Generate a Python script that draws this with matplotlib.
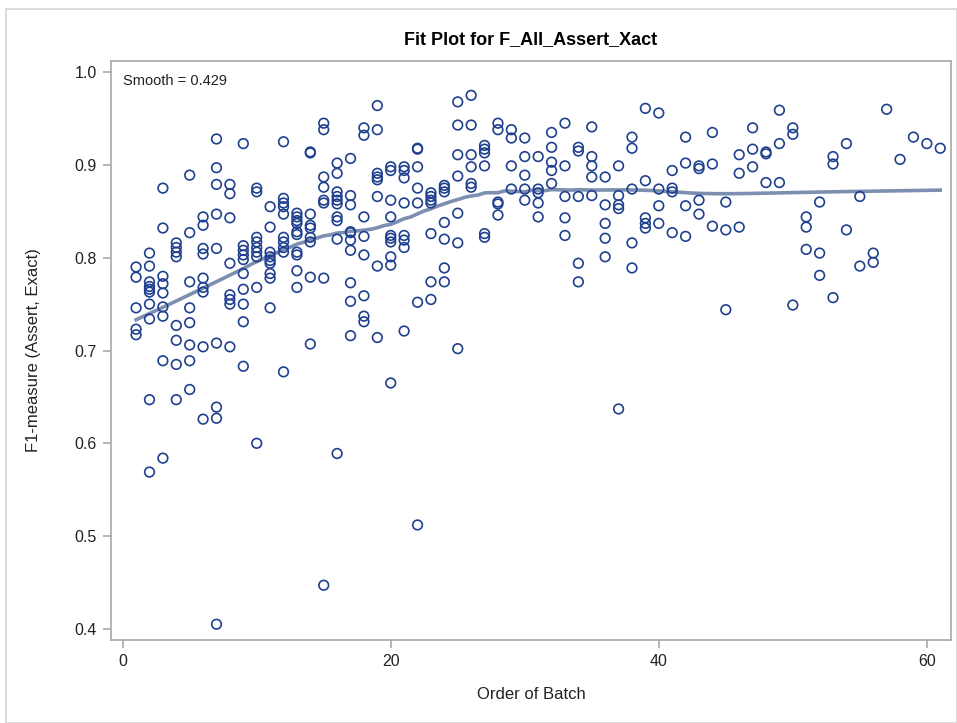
import numpy as np
import matplotlib
matplotlib.use('Agg')
import matplotlib.pyplot as plt
from matplotlib.patches import Rectangle

plt.rcParams['font.family'] = ['Liberation Sans', 'DejaVu Sans']

# F1 values, one list per batch (batch 1 .. 61)
f1_by_batch = [
    [0.790, 0.779, 0.746, 0.723, 0.717],
    [0.805, 0.791, 0.774, 0.769, 0.766, 0.763, 0.750, 0.734, 0.647, 0.569],
    [0.875, 0.832, 0.780, 0.772, 0.762, 0.747, 0.737, 0.689, 0.584],
    [0.816, 0.811, 0.806, 0.801, 0.727, 0.711, 0.685, 0.647],
    [0.889, 0.827, 0.774, 0.746, 0.730, 0.706, 0.689, 0.658],
    [0.844, 0.835, 0.810, 0.804, 0.778, 0.768, 0.763, 0.704, 0.626],
    [0.928, 0.897, 0.879, 0.847, 0.810, 0.708, 0.639, 0.627, 0.405],
    [0.879, 0.869, 0.843, 0.794, 0.760, 0.755, 0.750, 0.704],
    [0.923, 0.813, 0.808, 0.803, 0.798, 0.783, 0.766, 0.750, 0.731, 0.683],
    [0.875, 0.871, 0.822, 0.817, 0.811, 0.806, 0.801, 0.768, 0.600],
    [0.855, 0.833, 0.806, 0.801, 0.797, 0.794, 0.783, 0.778, 0.746],
    [0.925, 0.864, 0.859, 0.855, 0.847, 0.822, 0.817, 0.811, 0.806, 0.677],
    [0.848, 0.844, 0.840, 0.837, 0.828, 0.825, 0.806, 0.803, 0.786, 0.768],
    [0.914, 0.913, 0.847, 0.835, 0.832, 0.822, 0.817, 0.779, 0.707],
    [0.945, 0.938, 0.887, 0.876, 0.862, 0.859, 0.778, 0.447],
    [0.902, 0.891, 0.871, 0.866, 0.862, 0.858, 0.844, 0.840, 0.820, 0.589],
    [0.907, 0.867, 0.857, 0.828, 0.827, 0.819, 0.808, 0.773, 0.753, 0.716],
    [0.940, 0.932, 0.844, 0.823, 0.803, 0.759, 0.737, 0.731],
    [0.964, 0.938, 0.891, 0.887, 0.884, 0.866, 0.791, 0.714],
    [0.898, 0.894, 0.862, 0.844, 0.824, 0.821, 0.817, 0.801, 0.792, 0.665],
    [0.898, 0.894, 0.886, 0.859, 0.824, 0.819, 0.811, 0.721],
    [0.918, 0.917, 0.898, 0.875, 0.859, 0.752, 0.512],
    [0.870, 0.866, 0.862, 0.859, 0.826, 0.774, 0.755],
    [0.878, 0.875, 0.871, 0.838, 0.820, 0.789, 0.774],
    [0.968, 0.943, 0.911, 0.888, 0.848, 0.816, 0.702],
    [0.975, 0.943, 0.911, 0.898, 0.880, 0.876],
    [0.921, 0.917, 0.913, 0.899, 0.826, 0.822],
    [0.945, 0.938, 0.860, 0.858, 0.846],
    [0.938, 0.929, 0.899, 0.874],
    [0.929, 0.909, 0.889, 0.874, 0.862],
    [0.909, 0.874, 0.870, 0.859, 0.844],
    [0.935, 0.919, 0.903, 0.894, 0.880],
    [0.945, 0.899, 0.866, 0.843, 0.824],
    [0.919, 0.915, 0.866, 0.794, 0.774],
    [0.941, 0.909, 0.899, 0.887, 0.867],
    [0.887, 0.857, 0.837, 0.821, 0.801],
    [0.899, 0.867, 0.857, 0.853, 0.637],
    [0.930, 0.918, 0.874, 0.816, 0.789],
    [0.961, 0.883, 0.843, 0.837, 0.832],
    [0.956, 0.874, 0.856, 0.837],
    [0.894, 0.875, 0.871, 0.827],
    [0.930, 0.902, 0.856, 0.823],
    [0.899, 0.896, 0.862, 0.847],
    [0.935, 0.901, 0.834],
    [0.860, 0.830, 0.744],
    [0.911, 0.891, 0.833],
    [0.940, 0.917, 0.898],
    [0.914, 0.912, 0.881],
    [0.959, 0.923, 0.881],
    [0.940, 0.933, 0.749],
    [0.844, 0.833, 0.809],
    [0.860, 0.805, 0.781],
    [0.909, 0.901, 0.757],
    [0.923, 0.830],
    [0.866, 0.791],
    [0.805, 0.795],
    [0.960],
    [0.906],
    [0.930],
    [0.923],
    [0.918],
]
smooth = 0.429

batch = np.concatenate([[i + 1] * len(v) for i, v in enumerate(f1_by_batch)]).astype(float)
f1 = np.concatenate(f1_by_batch)


def loess(x, y, xs, span):  # local linear fit, tricube weights
    n = len(x)
    k = int(np.floor(span * n))
    out = []
    for x0 in xs:
        d = np.abs(x - x0)
        dmax = np.sort(d)[k - 1] * 1.0001 + 1e-9
        w = np.clip(1 - (d / dmax) ** 3, 0, None) ** 3
        W = np.sum(w)
        xm = np.sum(w * x) / W
        ym = np.sum(w * y) / W
        b = np.sum(w * (x - xm) * (y - ym)) / np.sum(w * (x - xm) ** 2)
        out.append(ym + b * (x0 - xm))
    return np.array(out)


xs = np.linspace(1, 61, 241)
fit = loess(batch, f1, xs, smooth)

fig = plt.figure(figsize=(9.57, 7.23), dpi=100)
fig.patches.append(Rectangle((0.006, 0.0), 0.994, 0.988, transform=fig.transFigure,
                             fill=False, edgecolor='#d4d4d4', linewidth=1.2))
ax = fig.add_axes([0.116, 0.1148, 0.8777, 0.8008])

ax.plot(xs, fit, color='#7d8fb0', linewidth=2.6, zorder=2)
ax.scatter(batch, f1, s=48, facecolors='none', edgecolors='#1f3f8f', linewidths=1.2, zorder=3)

ax.set_xlim(-0.87, 61.8)
ax.set_ylim(0.388, 1.012)
ax.set_xticks([0, 20, 40, 60])
ax.set_yticks([0.4, 0.5, 0.6, 0.7, 0.8, 0.9, 1.0])
ax.set_yticklabels(['%.1f' % t for t in [0.4, 0.5, 0.6, 0.7, 0.8, 0.9, 1.0]])
for s in ax.spines.values():
    s.set_color('#a8a8a8')
    s.set_linewidth(1.2)
ax.tick_params(color='#a8a8a8', length=6, width=1.2, labelsize=11.5, labelcolor='#222222', pad=4)

ax.set_xlabel('Order of Batch', fontsize=12, color='#222222', labelpad=13)
ax.set_ylabel('F1-measure (Assert, Exact)', fontsize=12, color='#222222', labelpad=24)
ax.set_title('Fit Plot for F_All_Assert_Xact', fontsize=13, fontweight='bold', pad=12)
ax.text(0.014, 0.977, 'Smooth = %.3f' % smooth, transform=ax.transAxes,
        fontsize=10.5, va='top', ha='left', color='#222222')

fig.savefig('out.png', dpi=100)
